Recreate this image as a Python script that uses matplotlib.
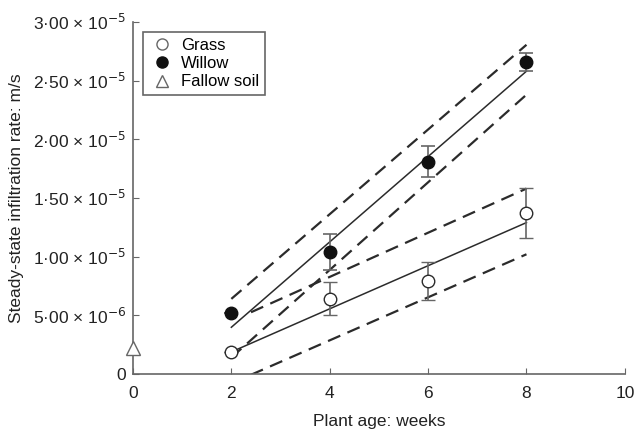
import matplotlib.pyplot as plt
from matplotlib.lines import Line2D

plt.rcParams['font.family'] = ['Liberation Sans', 'DejaVu Sans']

# Dados
weeks = [2, 4, 6, 8]
grass = [1.9e-6, 6.4e-6, 7.9e-6, 13.7e-6]
grass_err = [0, 1.4e-6, 1.6e-6, 2.15e-6]
willow = [5.2e-6, 10.4e-6, 18.1e-6, 26.6e-6]
willow_err = [0, 1.5e-6, 1.3e-6, 0.75e-6]
fallow_x = [0]
fallow = [2.25e-6]

# retas de ajuste e bandas (extremos)
willow_fit_x = [2, 8]
willow_fit = [3.98e-6, 25.8e-6]
willow_up_x = [2, 8]
willow_up = [6.4e-6, 28.05e-6]
willow_lo_x = [2, 8]
willow_lo = [1.4e-6, 23.8e-6]
grass_fit_x = [2, 8]
grass_fit = [1.88e-6, 12.9e-6]
grass_up_x = [2.4, 8]
grass_up = [5.26e-6, 15.8e-6]
grass_lo_x = [2, 8]
grass_lo = [-0.8e-6, 10.2e-6]

yticks = [0, 5e-6, 1e-5, 1.5e-5, 2e-5, 2.5e-5, 3e-5]
ytick_labels = ['0', r'5·00 × 10$^{-6}$', r'1·00 × 10$^{-5}$', r'1·50 × 10$^{-5}$',
                r'2·00 × 10$^{-5}$', r'2·50 × 10$^{-5}$', r'3·00 × 10$^{-5}$']
xticks = [0, 2, 4, 6, 8, 10]

fig = plt.figure(figsize=(6.35, 4.32), dpi=100)
ax = fig.add_axes([0.2094, 0.1343, 0.7746, 0.815])

dark = '#2b2b2b'
grey = '#666666'

ax.plot(willow_fit_x, willow_fit, color=dark, lw=1.1)
ax.plot(willow_up_x, willow_up, color=dark, lw=1.6, ls=(0, (6, 3.5)))
ax.plot(willow_lo_x, willow_lo, color=dark, lw=1.6, ls=(0, (6, 3.5)))
ax.plot(grass_fit_x, grass_fit, color=dark, lw=1.1)
ax.plot(grass_up_x, grass_up, color=dark, lw=1.6, ls=(0, (6, 3.5)))
ax.plot(grass_lo_x, grass_lo, color=dark, lw=1.6, ls=(0, (6, 3.5)))

ax.errorbar(weeks, grass, yerr=grass_err, fmt='o', mfc='white', mec=dark, ms=9,
            mew=1.0, ecolor=grey, elinewidth=1.2, capsize=5, capthick=1.2,
            label='Grass', zorder=5)
ax.errorbar(weeks, willow, yerr=willow_err, fmt='o', mfc='#111111', mec='#111111', ms=9,
            ecolor=grey, elinewidth=1.2, capsize=5, capthick=1.2,
            label='Willow', zorder=5)
ax.plot(fallow_x, fallow, '^', mfc='white', mec=grey, ms=10, mew=1.0,
        label='Fallow soil', clip_on=False, zorder=6)

ax.set_xlim(0, 10)
ax.set_ylim(0, 3e-5)
ax.set_xticks(xticks)
ax.set_yticks(yticks)
ax.set_yticklabels(ytick_labels)
ax.tick_params(direction='in', length=4, color=grey, labelsize=12.5, labelcolor='#222222')
ax.tick_params(axis='x', pad=9)
ax.tick_params(axis='y', pad=5)
for s in ['top', 'right']:
    ax.spines[s].set_visible(False)
for s in ['left', 'bottom']:
    ax.spines[s].set_color(grey)
    ax.spines[s].set_linewidth(1.2)

ax.set_xlabel('Plant age: weeks', fontsize=12.5, color='#222222', labelpad=9)
ax.set_ylabel('Steady-state infiltration rate: m/s', fontsize=12.5, color='#222222', labelpad=6)

handles = [
    Line2D([], [], marker='o', ls='none', mfc='white', mec=grey, ms=8),
    Line2D([], [], marker='o', ls='none', mfc='#111111', mec='#111111', ms=8),
    Line2D([], [], marker='^', ls='none', mfc='white', mec=grey, ms=9),
]
leg = ax.legend(handles, ['Grass', 'Willow', 'Fallow soil'], loc='upper left',
                bbox_to_anchor=(0.004, 0.995), fontsize=12, fancybox=False,
                edgecolor=grey, framealpha=1, handletextpad=0.3, labelspacing=0.2,
                borderpad=0.35, handlelength=1.6)
leg.get_frame().set_linewidth(1.2)

plt.savefig('out.png', dpi=100)
